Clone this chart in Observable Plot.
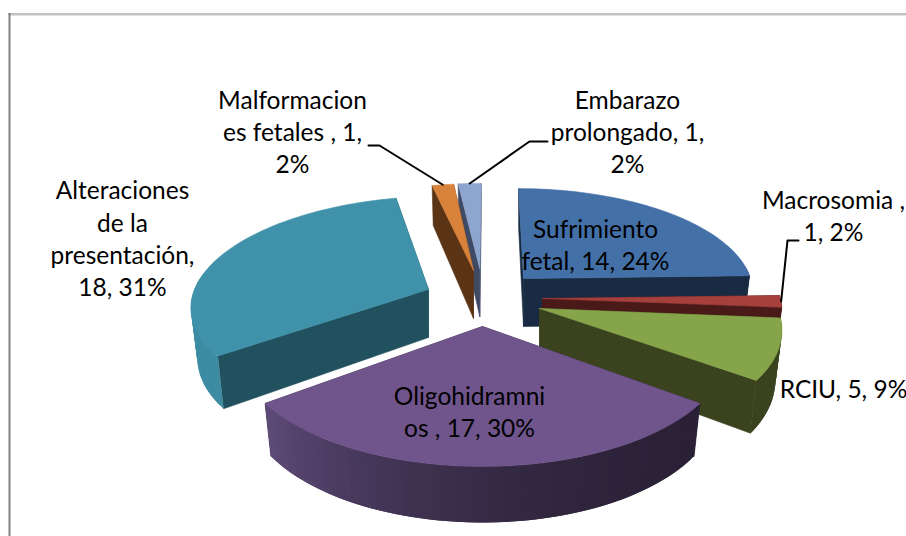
<!DOCTYPE html>
<html>
<head>
<meta charset="utf-8">
<script src="https://cdn.jsdelivr.net/npm/d3@7"></script>
<script src="https://cdn.jsdelivr.net/npm/@observablehq/plot@0.6"></script>
<style>html,body{margin:0;padding:0;background:#fff}svg{display:block}</style>
</head>
<body>
<div id="chart"></div>
<script>
// DATA
const categories = ["Sufrimiento fetal", "Macrosomia", "RCIU", "Oligohidramnios", "Alteraciones de la presentación", "Malformaciones fetales", "Embarazo prolongado"];
const counts = [14, 1, 5, 17, 18, 1, 1];
const percents = [24, 2, 9, 30, 31, 2, 2];
const labelTexts = [
  "Sufrimiento\nfetal, 14, 24%",
  "Macrosomia ,\n1, 2%",
  "RCIU, 5, 9%",
  "Oligohidramni\nos , 17, 30%",
  "Alteraciones\nde la\npresentación,\n18, 31%",
  "Malformacion\nes fetales , 1,\n2%",
  "Embarazo\nprolongado, 1,\n2%"
];

// STYLE
const topColors  = ["#4470a8", "#a5403d", "#86a44a", "#70558c", "#3f92aa", "#d9823b", "#8ea5cf"];
const sideColors = ["#182b43", "#4a1a19", "#3a431e", "#2a2137", "#21505e", "#5b3416", "#3f4a64"];
const rimColors  = [["#182b43"], ["#4a1a19"], ["#3a431e"], ["#2a2137", "#2d2339", "#3f3352", "#5f4a78"], ["#3d8ca2"], ["#5b3416"], ["#3f4a64"]];

// LAYOUT: the projected pose of each exploded slice
const poses = [
  {ax: 523, ay: 278, rx: 227, ry: 101, p: 0.11, sk: 5.6},
  {ax: 542, ay: 298, rx: 238, ry: 105, p: 0.11, sk: 0},
  {ax: 539, ay: 308, rx: 238, ry: 114, p: 0.11, sk: 20},
  {ax: 482, ay: 326, rx: 240, ry: 115.6, p: 0.21, sk: 0},
  {ax: 428, ay: 289, rx: 234, ry: 105.2, p: 0.113, sk: -15},
  {ax: 473, ay: 270, rx: 221, ry: 97.5, p: 0.11, sk: -2},
  {ax: 479.3, ay: 268.3, rx: 235, ry: 96, p: 0.11, sk: -1.6}
];
const depth = 48, depthGrow = 0.17, shrink = 0.973;
const paintOrder = [6, 0, 1, 5, 4, 2, 3];
const labelAnchors = [[595, 243], [833, 214], [843, 387], [469, 410], [122, 237], [292, 130], [627, 130]];
const leaders = [
  {slice: 5, via: [[368, 145], [379, 145]]},
  {slice: 6, via: [[547, 141], [529, 141]]},
  {slice: 1, via: [[798, 240], [787, 240]]}
];

// Geometry from the values
const total = d3.sum(counts);
let acc = 0;
const slices = counts.map((c, i) => {
  const a0 = acc / total * 2 * Math.PI;
  acc += c;
  return {i, a0, a1: acc / total * 2 * Math.PI, pose: poses[i]};
});
function pt(s, a, low) {
  const q = s.pose, u = Math.sin(a), v = -Math.cos(a), f = 1 + q.p * v;
  let x = (q.rx * u + q.sk * v) * f;
  let y = q.ry * v * f;
  if (low) { x *= shrink; y += depth * (1 + depthGrow * v); }
  return [q.ax + x, q.ay + y];
}
function apex(s, low) {
  return [s.pose.ax, s.pose.ay + (low ? depth : 0)];
}
const polys = [];
function addPoly(id, color, pts, stroke = color) {
  const closed = [...pts, pts[0]];
  closed.forEach(([x, y]) => polys.push({id, color, stroke, x, y}));
}
const step = 1.5 * Math.PI / 180;
paintOrder.forEach(k => {
  const s = slices[k];
  const n = Math.max(2, Math.ceil((s.a1 - s.a0) / step));
  const angles = d3.range(n + 1).map(j => s.a0 + (s.a1 - s.a0) * j / n);
  // radial side faces
  [s.a0, s.a1].forEach((a, j) => {
    addPoly(`side-${k}-${j}`, sideColors[k], [apex(s), pt(s, a), pt(s, a, true), apex(s, true)]);
  });
  // outer wall, only where it faces the viewer; each strip runs under the next one
  const ramp = rimColors[k];
  const rampAt = ramp.length > 1 ? d3.interpolateRgbBasis(ramp) : () => ramp[0];
  for (let j = 0; j < n; j++) {
    const vMid = -Math.cos((angles[j] + angles[j + 1]) / 2);
    if (vMid < -0.12) continue;
    const far = angles[Math.min(j + 2, n)];
    addPoly(`rim-${k}-${j}`, rampAt((j + 0.5) / n), [pt(s, angles[j]), pt(s, far), pt(s, far, true), pt(s, angles[j], true)], "none");
  }
  // top face
  addPoly(`top-${k}`, topColors[k], [apex(s), ...angles.map(a => pt(s, a))]);
});

const leaderRows = leaders.flatMap((l, i) => {
  const s = slices[l.slice];
  const end = pt(s, (s.a0 + s.a1) / 2);
  return [...l.via, end].map(([x, y]) => ({id: i, x, y}));
});
const labelRows = labelTexts.map((text, i) => ({text, x: labelAnchors[i][0], y: labelAnchors[i][1], category: categories[i], pct: percents[i]}));

const chart = Plot.plot({
  width: 906,
  height: 536,
  margin: 0,
  x: {domain: [0, 906], range: [0, 906], axis: null},
  y: {domain: [0, 536], range: [0, 536], axis: null},
  color: {type: "identity"},
  style: {background: "#fff"},
  marks: [
    Plot.ruleY([13.5], {x1: 8, x2: 906, stroke: "#808080", strokeWidth: 1}),
    Plot.ruleY([14.5], {x1: 10, x2: 906, stroke: "#c4c4c4", strokeWidth: 1}),
    Plot.ruleX([9], {y1: 13, y2: 536, stroke: "#808080", strokeWidth: 2}),
    Plot.line(polys, {x: "x", y: "y", z: "id", fill: "color", stroke: "stroke", strokeWidth: 0.6, curve: "linear"}),
    Plot.line(leaderRows, {x: "x", y: "y", z: "id", stroke: "#000", strokeWidth: 2, curve: "linear"}),
    Plot.text(labelRows, {x: "x", y: "y", text: "text", fill: "#000", fontFamily: "Lato", fontSize: 24.5, lineHeight: 1.32, textAnchor: "middle", lineAnchor: "middle"})
  ]
});
document.getElementById("chart").append(chart);
</script>
</body>
</html>
